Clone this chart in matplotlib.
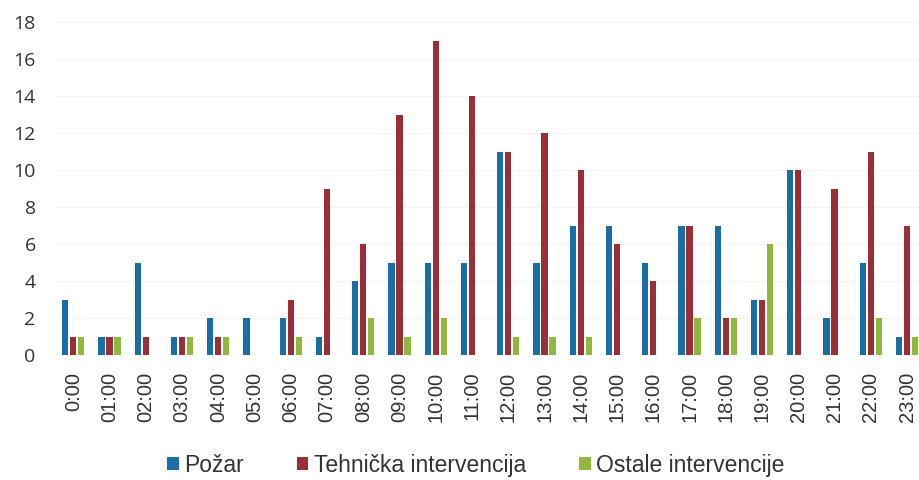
import numpy as np
import matplotlib.pyplot as plt

hours = ['0:00', '01:00', '02:00', '03:00', '04:00', '05:00', '06:00', '07:00',
         '08:00', '09:00', '10:00', '11:00', '12:00', '13:00', '14:00', '15:00',
         '16:00', '17:00', '18:00', '19:00', '20:00', '21:00', '22:00', '23:00']
pozar = [3, 1, 5, 1, 2, 2, 2, 1, 4, 5, 5, 5, 11, 5, 7, 7, 5, 7, 7, 3, 10, 2, 5, 1]
tehnicka = [1, 1, 1, 1, 1, 0, 3, 9, 6, 13, 17, 14, 11, 12, 10, 6, 4, 7, 2, 3, 10, 9, 11, 7]
ostale = [1, 1, 0, 1, 1, 0, 1, 0, 2, 1, 2, 0, 1, 1, 1, 0, 0, 2, 2, 6, 0, 0, 2, 1]

series = [('Požar', pozar, '#1a6ea6'),
          ('Tehnička intervencija', tehnicka, '#9a2f37'),
          ('Ostale intervencije', ostale, '#8fb83f')]

fig = plt.figure(figsize=(9.19, 4.80), dpi=100)
ax = fig.add_axes([0.06, 0.26, 0.94, 0.694])

x = np.arange(len(hours))
w = 0.17
step = 0.22
for i, (name, vals, col) in enumerate(series):
    ax.bar(x + (i - 1) * step, vals, width=w, color=col, label=name, zorder=3)

ax.set_xlim(-0.5, 23.33)
ax.set_ylim(0, 18)
ax.set_yticks(range(0, 19, 2))
ax.set_xticks(x)
ax.set_xticklabels(hours, rotation=90, fontsize=14.5, family='Liberation Sans', color='#333333')
for lab in ax.get_yticklabels():
    lab.set_fontsize(14)
    lab.set_family('Open Sans')
    lab.set_color('#333333')
ax.tick_params(axis='both', length=0)
ax.tick_params(axis='y', pad=14)
ax.tick_params(axis='x', pad=12)
ax.yaxis.grid(True, color='#f3f3f3', linewidth=0.8, zorder=0)
for s in ax.spines.values():
    s.set_visible(False)

leg = fig.legend(loc='center', bbox_to_anchor=(0.518, 0.031), ncol=3, frameon=False,
                 prop={'family': 'Liberation Sans', 'size': 16.5}, handlelength=0.5,
                 handleheight=0.5, handletextpad=0.25, columnspacing=2.3)
for t in leg.get_texts():
    t.set_color('#333333')

fig.savefig('out.png', dpi=100)
